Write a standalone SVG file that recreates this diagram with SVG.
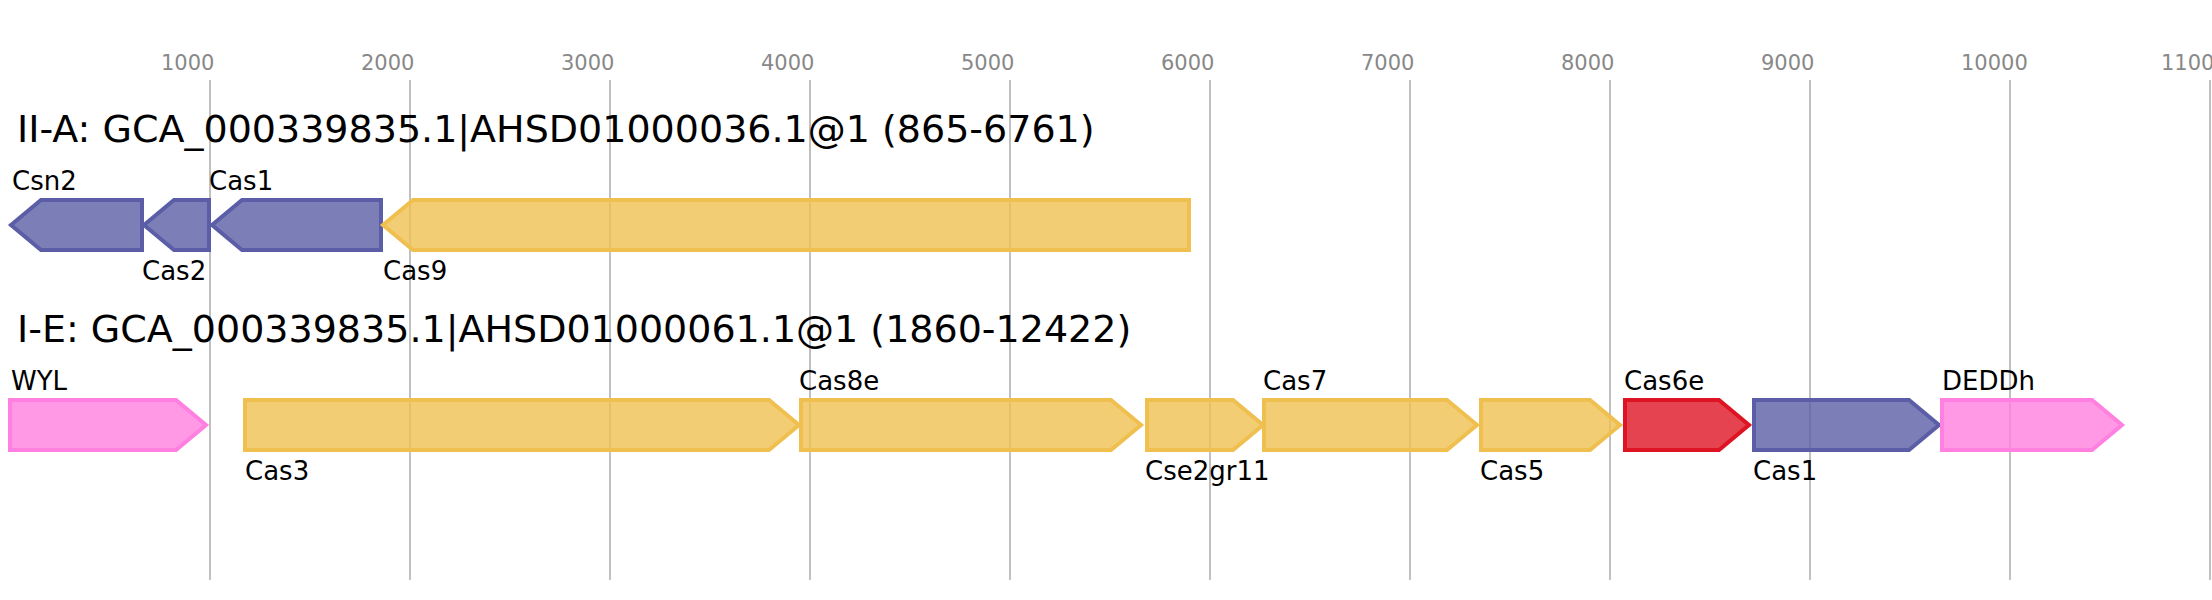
<svg xmlns="http://www.w3.org/2000/svg" width="2212" height="600" viewBox="0 0 2212 600">
<style>
.tick{font-family:"DejaVu Sans",sans-serif;font-size:21px;fill:#888888}
.grid{stroke:#c0c0c0;stroke-width:2}
.title{font-family:"DejaVu Sans",sans-serif;font-size:38px;fill:#000}
.lbl{font-family:"DejaVu Sans",sans-serif;font-size:26px;fill:#000}
.g{stroke-width:4;fill-opacity:0.8;stroke-linejoin:miter}
.pur{fill:#5b5ea6;stroke:#5b5ea6}
.yel{fill:#efc050;stroke:#efc050}
.red{fill:#dd1423;stroke:#dd1423}
.pnk{fill:#ff80e0;stroke:#ff80e0}
</style>
<rect width="2212" height="600" fill="#ffffff"/>
<g id="axis">
<line class="grid" x1="210" y1="80" x2="210" y2="580"/>
<line class="grid" x1="410" y1="80" x2="410" y2="580"/>
<line class="grid" x1="610" y1="80" x2="610" y2="580"/>
<line class="grid" x1="810" y1="80" x2="810" y2="580"/>
<line class="grid" x1="1010" y1="80" x2="1010" y2="580"/>
<line class="grid" x1="1210" y1="80" x2="1210" y2="580"/>
<line class="grid" x1="1410" y1="80" x2="1410" y2="580"/>
<line class="grid" x1="1610" y1="80" x2="1610" y2="580"/>
<line class="grid" x1="1810" y1="80" x2="1810" y2="580"/>
<line class="grid" x1="2010" y1="80" x2="2010" y2="580"/>
<line class="grid" x1="2210" y1="80" x2="2210" y2="580"/>
<text class="tick" x="161" y="70">1000</text>
<text class="tick" x="361" y="70">2000</text>
<text class="tick" x="561" y="70">3000</text>
<text class="tick" x="761" y="70">4000</text>
<text class="tick" x="961" y="70">5000</text>
<text class="tick" x="1161" y="70">6000</text>
<text class="tick" x="1361" y="70">7000</text>
<text class="tick" x="1561" y="70">8000</text>
<text class="tick" x="1761" y="70">9000</text>
<text class="tick" x="1961" y="70">10000</text>
<text class="tick" x="2161" y="70">11000</text>
</g>
<text class="title" x="17" y="142">II-A: GCA_000339835.1|AHSD01000036.1@1 (865-6761)</text>
<text class="title" x="17" y="342">I-E: GCA_000339835.1|AHSD01000061.1@1 (1860-12422)</text>
<g id="connectors"></g>
<g id="csn2"><polygon class="g pur" points="11,225 41,200 142,200 142,250 41,250"/><text class="lbl" x="12" y="190">Csn2</text></g>
<g id="cas2a"><polygon class="g pur" points="144,225 174,200 209,200 209,250 174,250"/><text class="lbl" x="142" y="280">Cas2</text></g>
<g id="cas1a"><polygon class="g pur" points="212,225 242,200 381,200 381,250 242,250"/><text class="lbl" x="209" y="190">Cas1</text></g>
<g id="cas9"><polygon class="g yel" points="383,225 413,200 1189,200 1189,250 413,250"/><text class="lbl" x="383" y="280">Cas9</text></g>
<g id="wyl"><polygon class="g pnk" points="10,400 176,400 206,425 176,450 10,450"/><text class="lbl" x="11" y="390">WYL</text></g>
<g id="cas3"><polygon class="g yel" points="245,400 769,400 799,425 769,450 245,450"/><text class="lbl" x="245" y="480">Cas3</text></g>
<g id="cas8e"><polygon class="g yel" points="801,400 1111,400 1141,425 1111,450 801,450"/><text class="lbl" x="799" y="390">Cas8e</text></g>
<g id="cse2"><polygon class="g yel" points="1147,400 1233,400 1263,425 1233,450 1147,450"/><text class="lbl" x="1145" y="480">Cse2gr11</text></g>
<g id="cas7"><polygon class="g yel" points="1264,400 1447,400 1477,425 1447,450 1264,450"/><text class="lbl" x="1263" y="390">Cas7</text></g>
<g id="cas5"><polygon class="g yel" points="1481,400 1590,400 1620,425 1590,450 1481,450"/><text class="lbl" x="1480" y="480">Cas5</text></g>
<g id="cas6e"><polygon class="g red" points="1625,400 1719,400 1749,425 1719,450 1625,450"/><text class="lbl" x="1624" y="390">Cas6e</text></g>
<g id="cas1b"><polygon class="g pur" points="1754,400 1909,400 1939,425 1909,450 1754,450"/><text class="lbl" x="1753" y="480">Cas1</text></g>
<g id="deddh"><polygon class="g pnk" points="1942,400 2092,400 2122,425 2092,450 1942,450"/><text class="lbl" x="1942" y="390">DEDDh</text></g>
</svg>
